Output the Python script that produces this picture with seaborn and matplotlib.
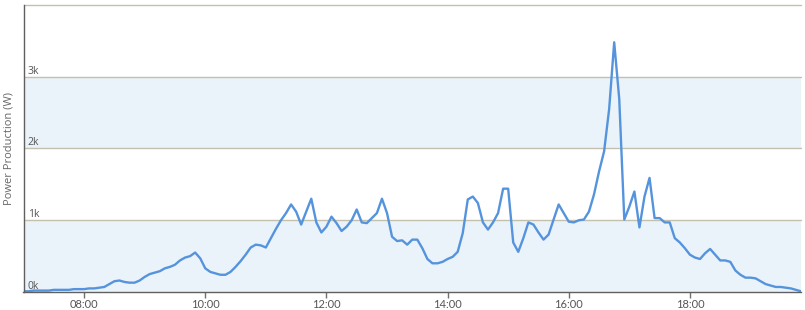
import numpy as np
import pandas as pd
import matplotlib
matplotlib.use("Agg")
import matplotlib.pyplot as plt
import matplotlib.dates as mdates
import seaborn as sns

# Power production (kW), every 5 minutes from 07:00 to 19:50
power_kw = [
    # 07:00 - 07:55
    0.01, 0.01, 0.02, 0.02, 0.02, 0.02, 0.03, 0.03, 0.03, 0.03, 0.04, 0.04,
    # 08:00 - 08:55
    0.04, 0.05, 0.05, 0.06, 0.07, 0.11, 0.15, 0.16, 0.14, 0.13, 0.13, 0.16,
    # 09:00 - 09:55
    0.21, 0.25, 0.27, 0.29, 0.33, 0.35, 0.38, 0.44, 0.48, 0.50, 0.55, 0.47,
    # 10:00 - 10:55
    0.33, 0.28, 0.26, 0.24, 0.24, 0.28, 0.35, 0.43, 0.52, 0.62, 0.66, 0.65,
    # 11:00 - 11:55
    0.62, 0.75, 0.88, 1.00, 1.10, 1.22, 1.12, 0.94, 1.12, 1.30, 0.97, 0.83,
    # 12:00 - 12:55
    0.91, 1.05, 0.96, 0.85, 0.91, 1.00, 1.15, 0.97, 0.96, 1.03, 1.10, 1.30,
    # 13:00 - 13:55
    1.10, 0.77, 0.71, 0.72, 0.66, 0.73, 0.73, 0.61, 0.46, 0.40, 0.40, 0.42,
    # 14:00 - 14:55
    0.46, 0.49, 0.56, 0.82, 1.29, 1.33, 1.24, 0.97, 0.87, 0.97, 1.10, 1.44,
    # 15:00 - 15:55
    1.44, 0.69, 0.56, 0.75, 0.97, 0.94, 0.83, 0.73, 0.80, 1.01, 1.22, 1.10,
    # 16:00 - 16:55
    0.98, 0.97, 1.00, 1.01, 1.12, 1.36, 1.68, 1.96, 2.55, 3.48, 2.69, 1.01,
    # 17:00 - 17:55
    1.19, 1.40, 0.90, 1.33, 1.59, 1.03, 1.03, 0.97, 0.97, 0.75, 0.69, 0.61,
    # 18:00 - 18:55
    0.52, 0.48, 0.46, 0.54, 0.60, 0.52, 0.44, 0.44, 0.42, 0.30, 0.24, 0.20,
    # 19:00 - 19:50
    0.20, 0.19, 0.15, 0.11, 0.09, 0.07, 0.07, 0.06, 0.05, 0.03, 0.01,
]
start_time = "2024-06-01 07:00"
y_ticks = [0, 1000, 2000, 3000]
y_tick_labels = ["0k", "1k", "2k", "3k"]
x_tick_hours = [8, 10, 12, 14, 16, 18]
y_label = "Power Production (W)"

times = pd.date_range(start_time, periods=len(power_kw), freq="5min")
df = pd.DataFrame({"time": times, "power": np.array(power_kw) * 1000.0})

sns.set_style("white")
plt.rcParams["font.family"] = ["Open Sans", "DejaVu Sans"]

fig = plt.figure(figsize=(8.05, 3.10), dpi=100)
ax = fig.add_axes([23.5 / 805, 18 / 310, (801 - 23.5) / 805, 287 / 310])

band = "#EBF3FA"
grid = "#C4C0AE"
ax.axhspan(0, 1000, color=band, lw=0, zorder=0)
ax.axhspan(2000, 3000, color=band, lw=0, zorder=0)
for g in [1000, 2000, 3000, 4000]:
    ax.axhline(g, color=grid, lw=1.0, zorder=1, clip_on=False)

sns.lineplot(data=df, x="time", y="power", ax=ax, color="#5594DD",
             linewidth=1.7, zorder=3)

ax.set_ylim(0, 4000)
ax.set_xlim(times[0], times[-1])

day = times[0].normalize()
ax.set_xticks([day + pd.Timedelta(hours=h) for h in x_tick_hours])
ax.xaxis.set_major_formatter(mdates.DateFormatter("%H:%M"))
ax.tick_params(axis="x", length=4.5, width=1, color="#707070", pad=0.5,
               labelsize=8, labelcolor="#555555", bottom=True)
plt.setp(ax.get_xticklabels(), family=["Lato", "DejaVu Sans"])

ax.set_yticks(y_ticks)
ax.set_yticklabels(y_tick_labels)
ax.tick_params(axis="y", length=0, pad=-3, labelsize=7.5,
               labelcolor="#555555", left=False)
plt.setp(ax.get_yticklabels(), ha="left", va="bottom")

ax.set_xlabel("")
ax.set_ylabel(y_label, fontsize=8, color="#666666")
ax.yaxis.set_label_coords(-0.0115, 0.5)

for s in ["top", "right"]:
    ax.spines[s].set_visible(False)
for s in ["left", "bottom"]:
    ax.spines[s].set_color("#606060")
    ax.spines[s].set_linewidth(1.0)
    ax.spines[s].set_zorder(4)

fig.savefig("out.png", dpi=100)
